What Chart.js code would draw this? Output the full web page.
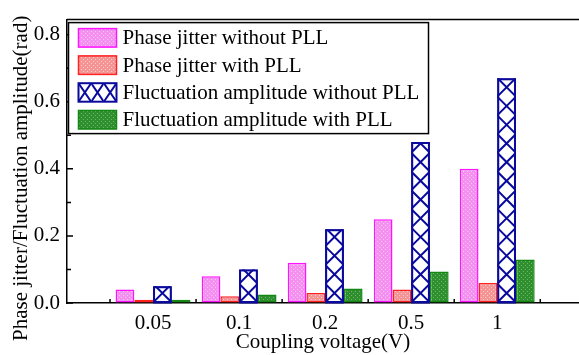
<!DOCTYPE html>
<html>
<head>
<meta charset="utf-8">
<script src="https://cdn.jsdelivr.net/npm/chart.js@4.4.1/dist/chart.umd.min.js"></script>
<style>body{margin:0;background:#fff}</style>
</head>
<body>
<canvas id="chart" width="579" height="355"></canvas>
<script>
// data
var categories = ['0.05', '0.1', '0.2', '0.5', '1'];
var jitterNoPll = [0.04, 0.08, 0.12, 0.25, 0.40];
var jitterPll = [0.01, 0.02, 0.03, 0.04, 0.06];
var ampNoPll = [0.05, 0.10, 0.22, 0.48, 0.67];
var ampPll = [0.01, 0.025, 0.043, 0.094, 0.13];
var seriesNames = ['Phase jitter without PLL', 'Phase jitter with PLL',
                   'Fluctuation amplitude without PLL', 'Fluctuation amplitude with PLL'];
var yTicks = [0, 0.2, 0.4, 0.6, 0.8];
var yMinorTicks = [0.1, 0.3, 0.5, 0.7];

var FONT = "'Liberation Serif', 'Times New Roman', serif";
var NAVY = '#0a0a9c';

// category index -> bar point, so the x axis can run a bit past both ends
function pts(vals) {
    return vals.map(function(v, i) { return { x: i, y: v }; });
}

function dotted(base, dot) {
    var c = document.createElement('canvas');
    c.width = 4; c.height = 4;
    var x = c.getContext('2d');
    x.fillStyle = base;
    x.fillRect(0, 0, 4, 4);
    x.fillStyle = dot;
    x.fillRect(1, 1, 1, 1);
    x.fillRect(3, 3, 1, 1);
    return x.createPattern(c, 'repeat');
}

var pinkFill = dotted('#f390f0', '#f9c4f7');
var redFill = dotted('#f59494', '#fbcaca');
var greenFill = dotted('#2f8f2f', '#6cb86c');

function crosses(ctx, l, t, w, h, cell) {
    ctx.save();
    ctx.beginPath();
    ctx.rect(l, t, w, h);
    ctx.clip();
    ctx.beginPath();
    for (var y0 = t + h; y0 > t - cell; y0 -= cell) {
        ctx.moveTo(l, y0); ctx.lineTo(l + w, y0 - cell);
        ctx.moveTo(l + w, y0); ctx.lineTo(l, y0 - cell);
    }
    ctx.stroke();
    ctx.restore();
}

var hatch = {
    id: 'hatch',
    afterDatasetDraw: function(chart, args) {
        if (args.index !== 2) return;
        var ctx = chart.ctx;
        ctx.save();
        ctx.strokeStyle = NAVY;
        ctx.lineWidth = 2;
        args.meta.data.forEach(function(bar, i) {
            if (ampNoPll[i] == null) return;
            var p = bar.getProps(['x', 'y', 'base', 'width'], true);
            var l = p.x - p.width / 2, t = Math.min(p.y, p.base), h = Math.abs(p.base - p.y);
            crosses(ctx, l, t, p.width, h, p.width);
            ctx.strokeRect(l + 1, t + 1, p.width - 2, h - 1);
        });
        ctx.restore();
    }
};

var frame = {
    id: 'frame',
    afterDraw: function(chart) {
        var ctx = chart.ctx, a = chart.chartArea, xs = chart.scales.x, ys = chart.scales.y;
        ctx.save();
        ctx.strokeStyle = '#000';
        ctx.lineWidth = 1.5;
        ctx.beginPath();
        // top border
        ctx.moveTo(a.left, a.top);
        ctx.lineTo(chart.width, a.top);
        // inward ticks, x between categories
        for (var i = 0; i <= categories.length; i++) {
            var px = xs.getPixelForValue(i - 0.5);
            ctx.moveTo(px, a.bottom);
            ctx.lineTo(px, a.bottom - 4);
        }
        yTicks.forEach(function(v) {
            var py = ys.getPixelForValue(v);
            ctx.moveTo(a.left, py); ctx.lineTo(a.left + 6, py);
        });
        yMinorTicks.forEach(function(v) {
            var py = ys.getPixelForValue(v);
            ctx.moveTo(a.left, py); ctx.lineTo(a.left + 4, py);
        });
        ctx.stroke();

        // y title
        ctx.fillStyle = '#000';
        ctx.font = '21px ' + FONT;
        ctx.textAlign = 'center';
        ctx.textBaseline = 'middle';
        ctx.translate(21, (a.top + a.bottom) / 2 + 17);
        ctx.rotate(-Math.PI / 2);
        ctx.fillText('Phase jitter/Fluctuation amplitude(rad)', 0, 0);
        ctx.restore();

        // legend box
        ctx.save();
        var lx = a.left + 1.5, ly = a.top + 3, lw = 360, rowH = 27.3;
        ctx.fillStyle = '#fff';
        ctx.fillRect(lx, ly, lw, 111);
        ctx.strokeStyle = '#000';
        ctx.lineWidth = 1.5;
        ctx.strokeRect(lx, ly, lw, 111);
        ctx.font = '21px ' + FONT;
        ctx.textAlign = 'left';
        ctx.textBaseline = 'middle';
        chart.data.datasets.forEach(function(ds, k) {
            var sx = lx + 10, sy = ly + 6 + k * rowH, sw = 38, sh = 18.5;
            ctx.fillStyle = ds.backgroundColor;
            ctx.fillRect(sx, sy, sw, sh);
            ctx.strokeStyle = ds.borderColor;
            ctx.lineWidth = 1.5;
            if (k === 2) {
                ctx.lineWidth = 2;
                crosses(ctx, sx, sy, sw / 3, sh, sh);
                crosses(ctx, sx + sw / 3, sy, sw / 3, sh, sh);
                crosses(ctx, sx + 2 * sw / 3, sy, sw / 3, sh, sh);
            }
            ctx.strokeRect(sx, sy, sw, sh);
            ctx.fillStyle = '#000';
            ctx.fillText(ds.label, sx + sw + 6, sy + sh / 2 + 1);
        });
        ctx.restore();
    }
};

var ctx = document.getElementById('chart').getContext('2d');
var chart = new Chart(ctx, {
    type: 'bar',
    data: {
        datasets: [
            { label: seriesNames[0], data: pts(jitterNoPll), backgroundColor: pinkFill, borderColor: '#ff14ff' },
            { label: seriesNames[1], data: pts(jitterPll), backgroundColor: redFill, borderColor: '#ff2020' },
            { label: seriesNames[2], data: pts(ampNoPll), backgroundColor: '#ffffff', borderColor: NAVY },
            { label: seriesNames[3], data: pts(ampPll), backgroundColor: greenFill, borderColor: '#138613' }
        ]
    },
    options: {
        responsive: false,
        animation: false,
        devicePixelRatio: 1,
        layout: { padding: { top: 14, right: 0, left: 0, bottom: 0 } },
        datasets: {
            bar: { categoryPercentage: 0.87, barPercentage: 1, borderWidth: 1.5, borderSkipped: false }
        },
        plugins: { legend: { display: false }, tooltip: { enabled: false } },
        scales: {
            x: {
                type: 'linear',
                offset: false,
                min: -1,
                max: 4.95,
                grid: { drawOnChartArea: false, drawTicks: false },
                border: { display: true, color: '#000', width: 1.5 },
                ticks: { autoSkip: false, maxRotation: 0, padding: 8, color: '#000',
                         font: { family: FONT, size: 21 },
                         callback: function(v) { return categories[v]; } },
                afterBuildTicks: function(s) { s.ticks = categories.map(function(c, i) { return { value: i }; }); },
                title: { display: true, text: 'Coupling voltage(V)', color: '#000',
                         font: { family: FONT, size: 21 }, padding: { top: 0, bottom: 0 } },
                afterFit: function(s) { s.height = 52; }
            },
            y: {
                min: 0,
                max: 0.845,
                grid: { drawOnChartArea: false, drawTicks: false },
                border: { display: true, color: '#000', width: 1.5 },
                ticks: { padding: 7, color: '#000', font: { family: FONT, size: 21 },
                         callback: function(v) { return v.toFixed(1); } },
                afterBuildTicks: function(s) { s.ticks = yTicks.map(function(v) { return { value: v }; }); },
                afterFit: function(s) { s.width = 67; }
            }
        }
    },
    plugins: [hatch, frame]
});
</script>
</body>
</html>
